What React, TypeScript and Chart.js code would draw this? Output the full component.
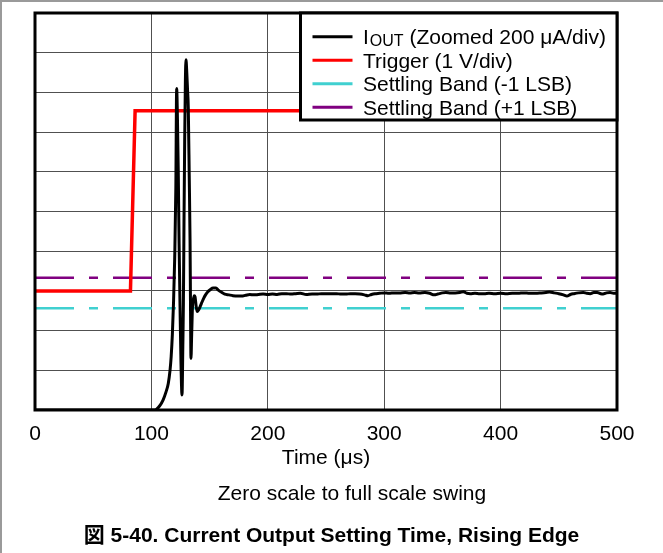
import React, { useEffect, useRef } from "react";
import { Chart, registerables } from "chart.js";

Chart.register(...registerables);

// ---------- data (time in µs, amplitude in screen divisions) ----------
const xTickValues = [0, 100, 200, 300, 400, 500];
const yDivisionCount = 10;

const seriesLabels = [
  "I_OUT (Zoomed 200 μA/div)",
  "Trigger (1 V/div)",
  "Settling Band (-1 LSB)",
  "Settling Band (+1 LSB)",
];
const seriesColors = ["#000000", "#FF0000", "#40D0D0", "#800080"];

const ioutTime = [
  0, 103, 107, 110, 112.5, 114.5, 116, 117, 118, 119, 120, 121, 121.7, 122.4, 123.1, 123.8, 124.6,
  125.4, 126.3, 127, 127.5, 128, 128.6, 129.2, 129.7, 130.4, 131, 131.7, 132.5, 133.2, 133.6, 134,
  134.6, 135.3, 136, 136.8, 137.5, 138.5, 139.4, 140.5, 141.8, 143.5, 145, 146.5, 148.5, 150.5, 153,
  155.5, 157.5, 160, 163, 166.5, 170, 174, 177.5, 181, 184.5, 188, 192, 196, 200, 204, 208, 212, 216,
  220, 224, 228, 233, 238, 242, 246, 250, 255, 259, 263, 267, 271, 275, 279, 283, 286, 289, 292, 296,
  300, 304, 309, 313, 318, 322, 326, 330, 335, 339, 343, 346, 350, 353, 357, 361, 365, 368, 371, 374,
  378, 382, 386, 390, 395, 400, 405, 410, 415, 420, 425, 430, 435, 439, 442, 446, 450, 454, 457, 460,
  463, 467, 471, 474, 477, 480, 483, 486, 488, 491, 494, 497, 500,
];
const ioutDiv = [
  0, 0, 0.1, 0.25, 0.45, 0.67, 1.0, 1.35, 1.9, 2.7, 3.8, 5.6, 8.1, 7.3, 5.96, 4.2, 2.6,
  1.2, 0.38, 1.6, 2.7, 4.7, 6.8, 8.3, 8.82, 8.5, 8.1, 7.6, 5.9, 4.28, 2.6, 1.3,
  1.9, 2.6, 2.78, 2.88, 2.85, 2.6, 2.48, 2.52, 2.6, 2.72, 2.82, 2.9, 2.98, 3.03, 3.07,
  3.07, 3.02, 2.97, 2.92, 2.9, 2.88, 2.87, 2.87, 2.89, 2.91, 2.9, 2.91, 2.92, 2.91, 2.92, 2.91, 2.93, 2.93,
  2.92, 2.93, 2.94, 2.91, 2.92, 2.92, 2.93, 2.93, 2.93, 2.93, 2.92, 2.92, 2.93, 2.93, 2.92, 2.9, 2.88, 2.91, 2.93, 2.94,
  2.95, 2.94, 2.95, 2.95, 2.96, 2.95, 2.96, 2.95, 2.96, 2.94, 2.9, 2.92, 2.95, 2.96, 2.95, 2.95, 2.96, 2.98, 2.94, 2.93,
  2.94, 2.93, 2.93, 2.94, 2.93, 2.94, 2.93, 2.94, 2.94, 2.95, 2.94, 2.94, 2.95, 2.96, 2.97, 2.95, 2.93, 2.9, 2.87, 2.91,
  2.93, 2.95, 2.96, 2.94, 2.93, 2.96, 2.96, 2.93, 2.92, 2.95, 2.96, 2.94, 2.94,
];

const triggerTime = [0, 82, 86, 500];
const triggerDiv = [3.0, 3.0, 7.54, 7.54];

const bandTime = [0, 500];
const bandLowDiv = [2.56, 2.56];
const bandHighDiv = [3.33, 3.33];

const xAxisTitle = "Time (μs)";
const subtitleText = "Zero scale to full scale swing";
const captionText = "図 5-40. Current Output Setting Time, Rising Edge";

// ---------- styling ----------
const FONT = '"Liberation Sans", Arial, Helvetica, sans-serif';
const GRID_COLOR = "#505050";

function toPoints(xs: number[], ys: number[]) {
  return xs.map((x, i) => ({ x, y: ys[i] }));
}

const framePlugin = {
  id: "plotFrame",
  afterDatasetsDraw(chart: any) {
    const { ctx, chartArea: a } = chart;
    ctx.save();
    ctx.strokeStyle = "#000";
    ctx.lineWidth = 3;
    ctx.setLineDash([]);
    ctx.strokeRect(a.left, a.top, a.right - a.left, a.bottom - a.top);
    ctx.restore();
  },
};

const boxLegendPlugin = {
  id: "boxLegend",
  afterDraw(chart: any) {
    const { ctx, chartArea: a } = chart;
    const left = a.right - 316.5;
    const top = a.top;
    const right = a.right;
    const bottom = a.top + 107;
    ctx.save();
    ctx.fillStyle = "#fff";
    ctx.fillRect(left, top, right - left, bottom - top);
    ctx.strokeStyle = "#000";
    ctx.lineWidth = 3;
    ctx.setLineDash([]);
    ctx.strokeRect(left, top, right - left, bottom - top);

    chart.data.datasets.forEach((ds: any, i: number) => {
      const y = top + 23.7 + i * 23.5;
      ctx.strokeStyle = ds.borderColor;
      ctx.lineWidth = 3;
      ctx.setLineDash([]);
      ctx.beginPath();
      ctx.moveTo(left + 12, y);
      ctx.lineTo(left + 52, y);
      ctx.stroke();

      const label: string = ds.label;
      const m = label.match(/^(.*?)_([A-Z]+)(.*)$/);
      const baseY = y + 7.5;
      let x = left + 62.5;
      ctx.fillStyle = "#000";
      ctx.textBaseline = "alphabetic";
      ctx.textAlign = "left";
      const mainFont = `21px ${FONT}`;
      const subFont = `16px ${FONT}`;
      if (m) {
        ctx.font = mainFont;
        ctx.fillText(m[1], x, baseY);
        x += ctx.measureText(m[1]).width + 1;
        ctx.font = subFont;
        ctx.fillText(m[2], x, baseY + 2);
        x += ctx.measureText(m[2]).width;
        ctx.font = mainFont;
        ctx.fillText(m[3], x, baseY);
      } else {
        ctx.font = mainFont;
        ctx.fillText(label, x, baseY);
      }
    });
    ctx.restore();
  },
};

export default function App() {
  const canvasRef = useRef<HTMLCanvasElement | null>(null);

  useEffect(() => {
    const canvas = canvasRef.current;
    if (!canvas) return;
    const common = { pointRadius: 0, pointHoverRadius: 0, fill: false };
    const chart = new Chart(canvas, {
      type: "line",
      data: {
        datasets: [
          {
            ...common,
            label: seriesLabels[0],
            data: toPoints(ioutTime, ioutDiv),
            borderColor: seriesColors[0],
            borderWidth: 3,
            cubicInterpolationMode: "monotone",
          },
          {
            ...common,
            label: seriesLabels[1],
            data: toPoints(triggerTime, triggerDiv),
            borderColor: seriesColors[1],
            borderWidth: 3.5,
            tension: 0,
          },
          {
            ...common,
            label: seriesLabels[2],
            data: toPoints(bandTime, bandLowDiv),
            borderColor: seriesColors[2],
            borderWidth: 2.5,
            borderDash: [39, 15, 9, 15],
          },
          {
            ...common,
            label: seriesLabels[3],
            data: toPoints(bandTime, bandHighDiv),
            borderColor: seriesColors[3],
            borderWidth: 2.5,
            borderDash: [39, 15, 9, 15],
          },
        ],
      } as any,
      options: {
        responsive: false,
        animation: false,
        events: [],
        layout: { padding: { top: 13, right: 46, bottom: 73, left: 0 } },
        plugins: { legend: { display: false }, tooltip: { enabled: false } },
        scales: {
          x: {
            type: "linear",
            min: xTickValues[0],
            max: xTickValues[xTickValues.length - 1],
            afterBuildTicks: (s: any) => {
              s.ticks = xTickValues.map((v) => ({ value: v }));
            },
            ticks: {
              color: "#000",
              font: { family: FONT, size: 21 },
              padding: 11.4,
              maxRotation: 0,
              autoSkip: false,
              callback: (v: any) => String(v),
            },
            grid: { color: GRID_COLOR, lineWidth: 1, drawTicks: false },
            border: { display: false },
            title: {
              display: true,
              text: xAxisTitle,
              color: "#000",
              font: { family: FONT, size: 21 },
              padding: { top: 0, bottom: 9.4 },
            },
            afterFit: (s: any) => {
              s.height = 70;
            },
          },
          y: {
            type: "linear",
            min: 0,
            max: yDivisionCount,
            ticks: { display: false, stepSize: 1 },
            grid: { color: GRID_COLOR, lineWidth: 1, drawTicks: false },
            border: { display: false },
            afterFit: (s: any) => {
              s.width = 35;
            },
          },
        },
      } as any,
      plugins: [framePlugin, boxLegendPlugin],
    });
    return () => chart.destroy();
  }, []);

  return (
    <div
      style={{
        position: "absolute",
        left: 0,
        top: 0,
        width: 663,
        height: 553,
        background: "#fff",
        overflow: "hidden",
      }}
    >
      <canvas ref={canvasRef} width={663} height={553} style={{ display: "block" }} />
      <div
        style={{
          position: "absolute",
          left: 41,
          width: 622,
          top: 481,
          textAlign: "center",
          fontFamily: FONT,
          fontSize: 21,
          lineHeight: "24px",
          color: "#000",
          whiteSpace: "nowrap",
        }}
      >
        {subtitleText}
      </div>
      <div
        style={{
          position: "absolute",
          left: 0,
          width: 663,
          top: 523,
          textAlign: "center",
          fontFamily: `"Liberation Sans", Arial, "Noto Sans CJK JP", sans-serif`,
          fontWeight: "bold",
          fontSize: 21,
          lineHeight: "24px",
          color: "#000",
          whiteSpace: "nowrap",
        }}
      >
        {captionText}
      </div>
      <div style={{ position: "absolute", left: 0, top: 0, width: 663, height: 2, background: "#9a9a9a" }} />
      <div style={{ position: "absolute", left: 0, top: 0, width: 2, height: 553, background: "#9a9a9a" }} />
    </div>
  );
}
